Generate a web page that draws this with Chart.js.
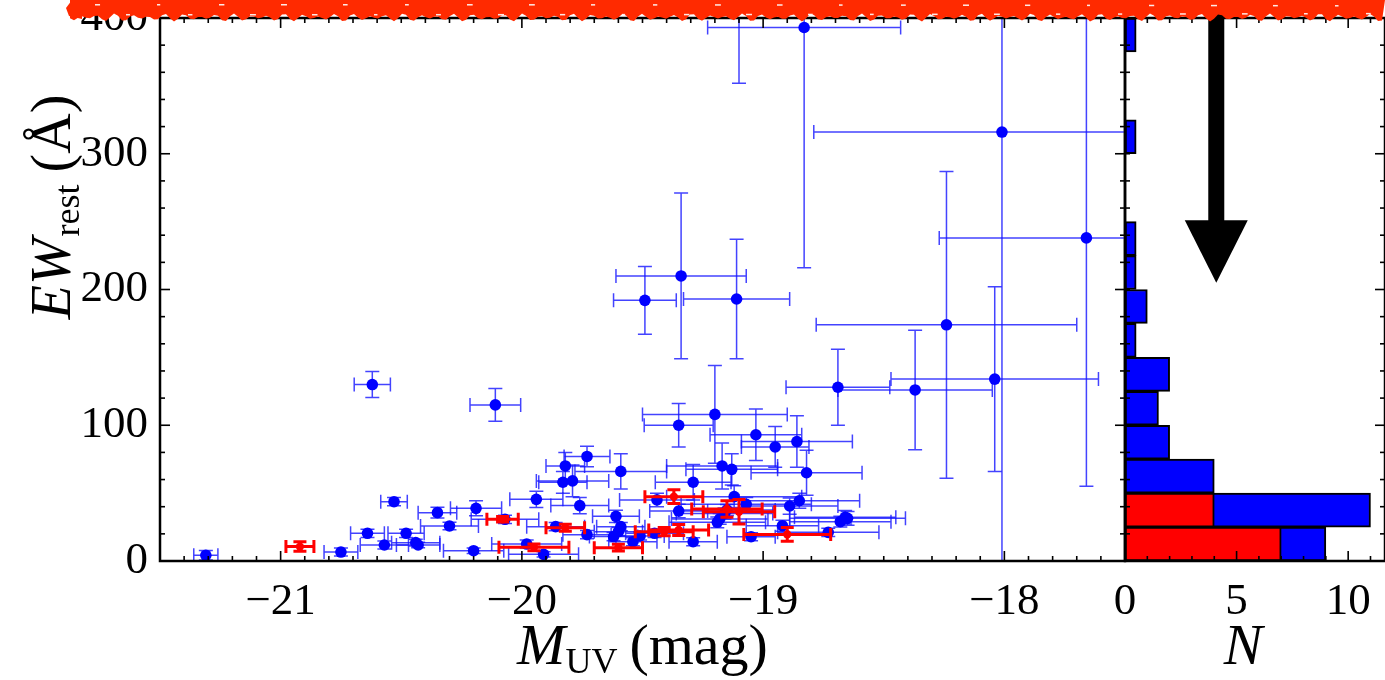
<!DOCTYPE html>
<html>
<head>
<meta charset="utf-8">
<script src="https://cdn.jsdelivr.net/npm/chart.js@4.4.0/dist/chart.umd.min.js"></script>
<style>
  html, body { margin: 0; padding: 0; background: #fff; }
  #wrap { position: relative; width: 1385px; height: 680px; overflow: hidden; }
  #wrap canvas { position: absolute; left: 0; top: 0; }
</style>
</head>
<body>
<div id="wrap">
  <canvas id="histChart" width="1385" height="680"></canvas>
  <canvas id="mainChart" width="1385" height="680"></canvas>
</div>
<script>
// ---- data ----
const blueMuv = [-18.83, -18.01, -17.66, -19.10, -19.49, -19.34, -19.11, -18.24, -18.04, -18.37,
  -18.69, -20.62, -20.11, -19.20, -19.35, -19.03, -18.86, -18.95, -19.73, -19.82,
  -19.59, -19.17, -19.13, -18.82, -19.79, -19.83, -19.29, -19.94, -20.19, -20.35,
  -20.53, -20.30, -20.07, -19.86, -20.64, -20.48, -20.57, -20.44, -20.43, -20.75,
  -21.31, -20.20, -19.98, -19.91, -19.44, -19.12, -19.76, -19.35, -19.07, -18.89,
  -18.85, -19.61, -19.18, -18.66, -18.68, -18.65, -18.92, -19.19, -19.59, -19.60,
  -19.62, -19.73, -19.54, -19.45, -19.05, -18.73, -19.16, -19.15, -19.29, -19.51];
const blueEw = [393, 316, 238, 425, 192, 210, 193, 174, 134, 126,
  128, 130, 115, 108, 100, 93, 88, 84, 77, 70,
  66, 70, 67.5, 65, 59, 58, 58, 45.4, 38.8, 35.6,
  43.7, 25.8, 30.7, 25.3, 20.4, 20.4, 11.8, 13.5, 11.8, 6.6,
  4.2, 7.6, 12.5, 4.9, 45, 47.4, 40.8, 36.8, 41.8, 40.5,
  44.4, 32.9, 31, 32.2, 29, 31.4, 26, 28.5, 25.3, 21.6,
  18, 19.4, 14.2, 20.4, 17.9, 21.1, 35, 37.6, 14.2, 18.4];
const blueMuvErr = [0.40, 0.78, 0.61, 0.40, 0.13, 0.27, 0.22, 0.54, 0.43, 0.32,
  0.215, 0.075, 0.105, 0.30, 0.143, 0.19, 0.23, 0.14, 0.095, 0.08,
  0.19, 0.23, 0.19, 0.23, 0.15, 0.10, 0.157, 0.11, 0.106, 0.08,
  0.055, 0.12, 0.14, 0.12, 0.07, 0.075, 0.10, 0.10, 0.09, 0.07,
  0.05, 0.125, 0.145, 0.145, 0.155, 0.28, 0.12, 0.12, 0.27, 0.20,
  0.25, 0.097, 0.20, 0.21, 0.21, 0.24, 0.15, 0.20, 0.10, 0.10,
  0.10, 0.10, 0.10, 0.12, 0.10, 0.21, 0.20, 0.20, 0.10, 0.10];
const blueEwErr = [177, 330, 183, 73, 25, 61, 44, 113, 68, 44,
  28, 9.6, 12, 36, 16, 19, 19, 15, 7.5, 10,
  13, 17, 11.5, 16.5, 11.7, 8, 13, 6, 5.5, 4,
  3, 2.7, 3, 3, 3, 3, 3, 2.5, 2, 3,
  3.5, 2, 3, 2, 5, 8, 6, 5, 5, 6,
  5.5, 4.5, 4, 5, 4, 5, 4, 4, 3, 3,
  3, 3, 3, 3, 3, 3, 4, 4, 3, 3];

const redMuv = [-20.92, -20.08, -19.95, -19.82, -19.60, -19.41, -19.35, -19.37, -19.15, -19.10, -18.90];
const redEw = [10.6, 30.7, 10.1, 24.5, 9.8, 21.6, 22.8, 47.4, 38.3, 36.3, 19.6];
const redMuvErr = [0.058, 0.065, 0.145, 0.08, 0.10, 0.12, 0.124, 0.12, 0.146, 0.148, 0.18];
const redEwErr = [3.5, 2, 2.5, 2.5, 2.5, 3, 4, 5, 6, 9, 5];

// histogram, bins of 25 A from 0 to 400
const ewBinCenters = [12.5, 37.5, 62.5, 87.5, 112.5, 137.5, 162.5, 187.5,
  212.5, 237.5, 262.5, 287.5, 312.5, 337.5, 362.5, 387.5];
const histBlue = [9, 11, 4, 2, 1.5, 2, 0.5, 1, 0.5, 0.5, 0, 0, 0.5, 0, 0, 0.5];
const histRed = [7, 4, 0, 0, 0, 0, 0, 0, 0, 0, 0, 0, 0, 0, 0, 0];

const muvTicks = [-21, -20, -19, -18];
const ewTicks = [0, 100, 200, 300, 400];
const nTicks = [0, 5, 10];

// arrow in the histogram panel (N, EW units)
const arrowN = 4.09;
const arrowShaftEndEw = 251;
const arrowTipEw = 205;

const serif = 'Liberation Serif';

function fmtMinus(v) {
  return v < 0 ? '\u2212' + Math.abs(v) : String(v);
}

function stepValues(min, max, step) {
  const out = [];
  const start = Math.ceil(min / step - 1e-9);
  for (let k = start; k * step <= max + 1e-9; k++) out.push(k * step);
  return out;
}
function isMultiple(v, m) {
  return Math.abs(v / m - Math.round(v / m)) < 1e-6;
}

// draws inward ticks on one side of the chart area
function sideTicks(ctx, chart, scaleId, side, step, major, minorLen, majorLen, onlyMinor) {
  const a = chart.chartArea;
  const s = chart.scales[scaleId];
  stepValues(s.min, s.max, step).forEach(v => {
    const isMaj = isMultiple(v, major);
    const len = (isMaj && !onlyMinor) ? majorLen : minorLen;
    const p = s.getPixelForValue(v);
    ctx.beginPath();
    if (side === 'bottom') { ctx.moveTo(p, a.bottom); ctx.lineTo(p, a.bottom - len); }
    if (side === 'top') { ctx.moveTo(p, a.top); ctx.lineTo(p, a.top + len); }
    if (side === 'left') { ctx.moveTo(a.left, p); ctx.lineTo(a.left + len, p); }
    if (side === 'right') { ctx.moveTo(a.right, p); ctx.lineTo(a.right - len, p); }
    ctx.stroke();
  });
}

// rich text: [{t, font, dy}]
function richWidth(ctx, parts) {
  return parts.reduce((w, p) => { ctx.font = p.font; return w + ctx.measureText(p.t).width + (p.gap || 0); }, 0);
}
function drawRich(ctx, parts, cx, baseY) {
  let x = cx - richWidth(ctx, parts) / 2;
  ctx.textAlign = 'left';
  ctx.textBaseline = 'alphabetic';
  parts.forEach(p => {
    ctx.font = p.font;
    ctx.fillText(p.t, x, baseY + (p.dy || 0));
    x += ctx.measureText(p.t).width + (p.gap || 0);
  });
}

const errorBars = {
  id: 'errorBars',
  beforeDatasetDraw(chart, args) {
    const ds = chart.data.datasets[args.index];
    if (!ds.xErr) return;
    const {ctx, chartArea: a} = chart;
    const xs = chart.scales.x, ys = chart.scales.y;
    ctx.save();
    ctx.beginPath();
    ctx.rect(a.left, a.top, a.width, a.height);
    ctx.clip();
    ctx.strokeStyle = ds.errColor;
    ctx.lineWidth = ds.errWidth;
    const c = ds.capSize;
    ds.data.forEach((p, i) => {
      const px = xs.getPixelForValue(p.x), py = ys.getPixelForValue(p.y);
      const x0 = xs.getPixelForValue(p.x - ds.xErr[i]), x1 = xs.getPixelForValue(p.x + ds.xErr[i]);
      const y0 = ys.getPixelForValue(p.y - ds.yErr[i]), y1 = ys.getPixelForValue(p.y + ds.yErr[i]);
      ctx.beginPath();
      ctx.moveTo(x0, py); ctx.lineTo(x1, py);
      ctx.moveTo(px, y0); ctx.lineTo(px, y1);
      ctx.moveTo(x0, py - c); ctx.lineTo(x0, py + c);
      ctx.moveTo(x1, py - c); ctx.lineTo(x1, py + c);
      ctx.moveTo(px - c, y0); ctx.lineTo(px + c, y0);
      ctx.moveTo(px - c, y1); ctx.lineTo(px + c, y1);
      ctx.stroke();
    });
    ctx.restore();
  }
};

const mainFrame = {
  id: 'mainFrame',
  afterDraw(chart) {
    const {ctx, chartArea: a} = chart;
    ctx.save();
    ctx.strokeStyle = '#000';
    ctx.lineWidth = 1.6;
    sideTicks(ctx, chart, 'x', 'bottom', 0.1, 1, 5, 10);
    sideTicks(ctx, chart, 'x', 'top', 0.1, 1, 5, 10);
    sideTicks(ctx, chart, 'y', 'left', 20, 100, 5, 10);
    sideTicks(ctx, chart, 'y', 'right', 20, 100, 5, 10);
    ctx.lineWidth = 2.5;
    ctx.strokeRect(a.left, a.top, a.width, a.height);

    // axis titles
    ctx.fillStyle = '#000';
    drawRich(ctx, [
      {t: 'M', font: 'italic 58px ' + serif},
      {t: 'UV', font: '36px ' + serif, dy: 9, gap: 12},
      {t: '(mag)', font: '58px ' + serif}
    ], (a.left + a.right) / 2, 664);

    ctx.save();
    ctx.translate(70, 207);
    ctx.rotate(-Math.PI / 2);
    drawRich(ctx, [
      {t: 'EW', font: 'italic 56px ' + serif, gap: 2},
      {t: 'rest', font: '36px ' + serif, dy: 9, gap: 12},
      {t: '(\u00C5)', font: '56px ' + serif}
    ], 0, 0);
    ctx.restore();

    // red scribble across the top
    ctx.fillStyle = '#ff2a00';
    ctx.beginPath();
    ctx.moveTo(70, 0);
    for (let x = 70; x <= 1385; x += 4) {
      ctx.lineTo(x, 17.5 + 2.5 * Math.sin(x * 0.37) + 1.6 * Math.sin(x * 1.31));
    }
    ctx.lineTo(1385, 0);
    ctx.closePath();
    ctx.fill();
    ctx.beginPath();
    ctx.moveTo(72, 0); ctx.lineTo(66, 8); ctx.lineTo(69, 16); ctx.lineTo(82, 19); ctx.lineTo(82, 0);
    ctx.fill();
    ctx.fillStyle = 'rgba(255,255,255,0.9)';
    for (let x = 95; x < 1385; x += 31) {
      const y = 4 + 5 * (1 + Math.sin(x * 0.71));
      ctx.fillRect(x, y, 3 + 3 * Math.abs(Math.sin(x)), 1.5);
    }
    ctx.restore();
  }
};

const histFrame = {
  id: 'histFrame',
  afterDraw(chart) {
    const {ctx, chartArea: a} = chart;
    const xs = chart.scales.x, ys = chart.scales.y;
    ctx.save();
    // arrow
    const cx = xs.getPixelForValue(arrowN);
    const yShaft = ys.getPixelForValue(arrowShaftEndEw);
    const yTip = ys.getPixelForValue(arrowTipEw);
    ctx.fillStyle = '#000';
    ctx.fillRect(cx - 8, 0, 16, yShaft + 1);
    ctx.beginPath();
    ctx.moveTo(cx - 31.5, yShaft);
    ctx.lineTo(cx + 31.5, yShaft);
    ctx.lineTo(cx, yTip);
    ctx.closePath();
    ctx.fill();

    ctx.strokeStyle = '#000';
    ctx.lineWidth = 1.6;
    sideTicks(ctx, chart, 'x', 'bottom', 1, 5, 5, 10);
    sideTicks(ctx, chart, 'x', 'top', 1, 5, 5, 10);
    sideTicks(ctx, chart, 'y', 'left', 20, 100, 5, 10, true);
    sideTicks(ctx, chart, 'y', 'right', 20, 100, 5, 10);
    ctx.lineWidth = 2.5;
    ctx.strokeRect(a.left, a.top, a.width, a.height);

    ctx.fillStyle = '#000';
    drawRich(ctx, [{t: 'N', font: 'italic 58px ' + serif}], 1243, 664);
    ctx.restore();
  }
};

function toBars(counts) {
  return counts.map((n, i) => ({x: n, y: ewBinCenters[i]})).filter(d => d.x > 0);
}

const tickFont = {family: serif, size: 45};

new Chart(document.getElementById('histChart'), {
  type: 'bar',
  data: {
    datasets: [
      {label: 'red', data: toBars(histRed), backgroundColor: '#ff0000'},
      {label: 'blue', data: toBars(histBlue), backgroundColor: '#0000ff'}
    ]
  },
  options: {
    indexAxis: 'y',
    responsive: false,
    animation: false,
    layout: {padding: {left: 1125, right: 0, top: 18, bottom: 0}},
    datasets: {
      bar: {grouped: false, barPercentage: 1, categoryPercentage: 1,
        borderColor: '#000', borderWidth: 2, borderSkipped: false}
    },
    plugins: {legend: {display: false}, tooltip: {enabled: false}},
    scales: {
      x: {
        type: 'linear', min: 0, max: 11.65,
        grid: {display: false, drawTicks: false}, border: {display: false},
        afterBuildTicks: s => { s.ticks = nTicks.map(v => ({value: v})); },
        afterFit: s => { s.height = 119; s.paddingLeft = 0; s.paddingRight = 0; },
        ticks: {font: tickFont, color: '#000', padding: 14, maxRotation: 0}
      },
      y: {
        type: 'linear', min: 0, max: 400, offset: false, display: false,
        ticks: {stepSize: 25}
      }
    }
  },
  plugins: [histFrame]
});

new Chart(document.getElementById('mainChart'), {
  type: 'scatter',
  data: {
    datasets: [
      {
        label: 'red',
        data: redMuv.map((x, i) => ({x: x, y: redEw[i]})),
        xErr: redMuvErr, yErr: redEwErr,
        errColor: '#ff0000', errWidth: 3, capSize: 6.5,
        backgroundColor: '#ff0000', borderColor: '#ff0000',
        pointRadius: 4.2, pointBorderWidth: 0, clip: 0
      },
      {
        label: 'blue',
        data: blueMuv.map((x, i) => ({x: x, y: blueEw[i]})),
        xErr: blueMuvErr, yErr: blueEwErr,
        errColor: 'rgba(20,20,255,0.8)', errWidth: 1.5, capSize: 7,
        backgroundColor: '#0000ff', borderColor: '#0000ff',
        pointRadius: 5.8, pointBorderWidth: 0, clip: 0
      }
    ]
  },
  options: {
    responsive: false,
    animation: false,
    layout: {padding: {left: 0, right: 260, top: 18, bottom: 0}},
    plugins: {legend: {display: false}, tooltip: {enabled: false}},
    scales: {
      x: {
        type: 'linear', min: -21.5, max: -17.5,
        grid: {display: false, drawTicks: false}, border: {display: false},
        afterBuildTicks: s => { s.ticks = muvTicks.map(v => ({value: v})); },
        afterFit: s => { s.height = 119; s.paddingLeft = 0; s.paddingRight = 0; },
        ticks: {font: tickFont, color: '#000', padding: 14, maxRotation: 0,
          callback: v => fmtMinus(v)}
      },
      y: {
        type: 'linear', min: 0, max: 400,
        grid: {display: false, drawTicks: false}, border: {display: false},
        afterBuildTicks: s => { s.ticks = ewTicks.map(v => ({value: v})); },
        afterFit: s => { s.width = 160; s.paddingTop = 0; s.paddingBottom = 0; },
        ticks: {font: tickFont, color: '#000', padding: 12}
      }
    }
  },
  plugins: [errorBars, mainFrame]
});
</script>
</body>
</html>
